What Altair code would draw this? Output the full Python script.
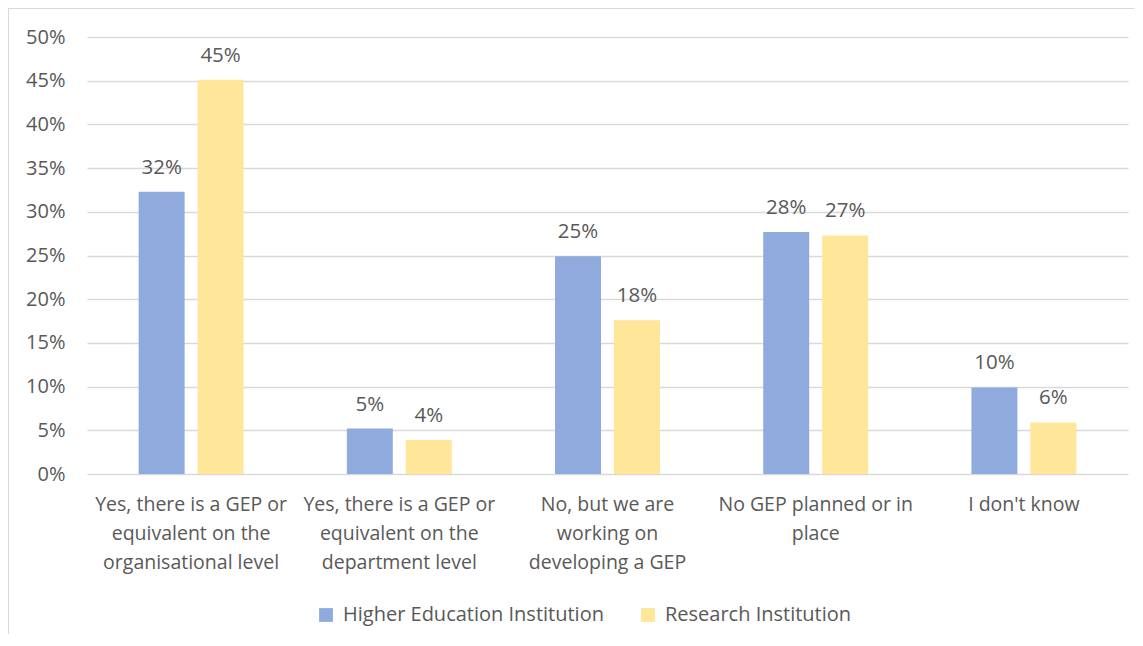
import altair as alt
import pandas as pd

categories = [
    "Yes, there is a GEP or\nequivalent on the\norganisational level",
    "Yes, there is a GEP or\nequivalent on the\ndepartment level",
    "No, but we are\nworking on\ndeveloping a GEP",
    "No GEP planned or in\nplace",
    "I don't know",
]
series = ["Higher Education Institution", "Research Institution"]
hei_values = [0.323, 0.052, 0.249, 0.277, 0.099]
ri_values = [0.451, 0.039, 0.176, 0.273, 0.059]
colors = ["#8faadc", "#ffe699"]
y_ticks = [0, 0.05, 0.1, 0.15, 0.2, 0.25, 0.3, 0.35, 0.4, 0.45, 0.5]

rows = []
for c, h, r in zip(categories, hei_values, ri_values):
    rows.append({"category": c, "series": series[0], "value": h})
    rows.append({"category": c, "series": series[1], "value": r})
df = pd.DataFrame(rows)

FONT = "Open Sans"
GRAY = "#595959"

x_enc = alt.X(
    "category:N",
    sort=categories,
    scale=alt.Scale(paddingInner=0.496, paddingOuter=0.248),
    axis=alt.Axis(
        title=None,
        labelAngle=0,
        labelExpr="split(datum.label, '\\n')",
        labelFont=FONT,
        labelFontSize=19.5,
        labelColor=GRAY,
        labelLineHeight=29,
        labelPadding=21.5,
        labelBaseline="top",
        ticks=False,
        domain=False,
        labelLimit=300,
    ),
)
xoff = alt.XOffset("series:N", sort=series, scale=alt.Scale(paddingInner=0.22, paddingOuter=0))
y_enc = alt.Y(
    "value:Q",
    scale=alt.Scale(domain=[0, 0.5], nice=False),
    axis=alt.Axis(
        title=None,
        values=y_ticks,
        format=".0%",
        labelFont=FONT,
        labelFontSize=20,
        labelColor=GRAY,
        labelPadding=22,
        ticks=False,
        domain=False,
        gridColor="#d9d9d9",
        gridWidth=1.3,
    ),
)

bars = alt.Chart(df).mark_bar().encode(
    x=x_enc,
    xOffset=xoff,
    y=y_enc,
    color=alt.Color(
        "series:N",
        sort=series,
        scale=alt.Scale(domain=series, range=colors),
        legend=alt.Legend(
            title=None,
            orient="none",
            direction="horizontal",
            legendX=229,
            legendY=568,
            symbolType="square",
            symbolSize=190,
            symbolStrokeWidth=0,
            labelFont=FONT,
            labelFontSize=20,
            labelColor=GRAY,
            labelOffset=7,
            columnPadding=34,
            labelLimit=400,
        ),
    ),
)

labels = alt.Chart(df).mark_text(
    baseline="bottom", dy=-14, font=FONT, fontSize=20.5, color=GRAY
).encode(
    x=alt.X("category:N", sort=categories),
    xOffset=alt.XOffset("series:N", sort=series),
    y="value:Q",
    text=alt.Text("value:Q", format=".0%"),
)

border = alt.Chart(pd.DataFrame({"k": [0]})).mark_rect(
    fill=None, stroke="#d9d9d9", strokeWidth=2
).encode(
    x=alt.value(-79), x2=alt.value(1100), y=alt.value(-29), y2=alt.value(640)
)

chart = alt.layer(border, bars, labels).properties(
    width=1041,
    height=437,
    autosize=alt.AutoSizeParams(type="none"),
    padding={"left": 79, "top": 29, "right": 6, "bottom": 160},
    background="white",
).configure_view(stroke=None)

chart.save("out.html", embed_options={"renderer": "svg", "actions": False})
